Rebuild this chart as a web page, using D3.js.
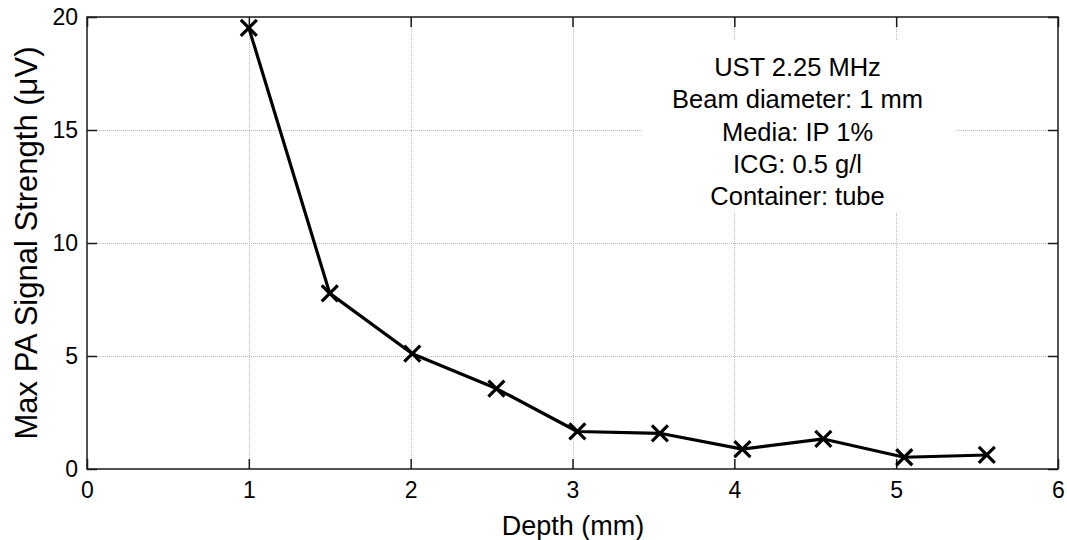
<!DOCTYPE html>
<html>
<head>
<meta charset="utf-8">
<script src="https://cdn.jsdelivr.net/npm/d3@7"></script>
<style>
  html, body { margin: 0; padding: 0; background: #fff; }
  svg { display: block; }
  text { font-family: "Liberation Sans", Arial, sans-serif; fill: #000; }
</style>
</head>
<body>
<svg id="chart" width="1067" height="540"></svg>
<script>
// ---- data ----
const depths = [1.0, 1.5, 2.01, 2.53, 3.03, 3.54, 4.05, 4.55, 5.05, 5.56];
const signal = [19.52, 7.77, 5.1, 3.56, 1.66, 1.58, 0.88, 1.33, 0.52, 0.62];
const xTicks = [0, 1, 2, 3, 4, 5, 6];
const yTicks = [0, 5, 10, 15, 20];
const xLabel = "Depth (mm)";
const yLabel = "Max PA Signal Strength (\u03BCV)";
const noteLines = ["UST 2.25 MHz", "Beam diameter: 1 mm", "Media: IP 1%", "ICG: 0.5 g/l", "Container: tube"];

// ---- layout ----
const W = 1067, H = 540;
const m = { left: 87, right: 9, top: 17, bottom: 71 };
const pw = W - m.left - m.right, ph = H - m.top - m.bottom;
const tickFs = 23, labelFs = 27, yLabelFs = 31, noteFs = 25.5;

const svg = d3.select("#chart");
const g = svg.append("g").attr("transform", `translate(${m.left},${m.top})`);

const x = d3.scaleLinear().domain([0, 6]).range([0, pw]);
const y = d3.scaleLinear().domain([0, 20]).range([ph, 0]);

// grid
const grid = g.append("g").attr("stroke", "#b8b8b8").attr("stroke-width", 1).attr("stroke-dasharray", "1,1");
grid.selectAll("line.gx").data(xTicks.slice(1, -1)).join("line")
  .attr("x1", d => Math.round(x(d)) + 0.5).attr("x2", d => Math.round(x(d)) + 0.5)
  .attr("y1", 0).attr("y2", ph);
grid.selectAll("line.gy").data(yTicks.slice(1, -1)).join("line")
  .attr("y1", d => Math.round(y(d)) + 0.5).attr("y2", d => Math.round(y(d)) + 0.5)
  .attr("x1", 0).attr("x2", pw);

// annotation box (white background covering grid)
const boxX = 556, boxY = 23, boxW = 313, boxH = 173;
g.append("rect").attr("x", boxX).attr("y", boxY).attr("width", boxW).attr("height", boxH).attr("fill", "#fff");
g.append("g").selectAll("text").data(noteLines).join("text")
  .attr("x", boxX + boxW / 2 - 2)
  .attr("y", (d, i) => boxY + 36 + i * 32.3)
  .attr("text-anchor", "middle")
  .attr("font-size", noteFs)
  .text(d => d);

// axes (box with inward ticks)
const tickLen = 10;
const axG = g.append("g").attr("stroke", "#1a1a1a").attr("stroke-width", 1.5);
axG.append("rect").attr("x", 0).attr("y", 0).attr("width", pw).attr("height", ph).attr("fill", "none");

const bottomAxis = d3.axisBottom(x).tickValues(xTicks).tickSize(-tickLen).tickPadding(13).tickFormat(d3.format("d"));
const topAxis = d3.axisTop(x).tickValues(xTicks).tickSize(-tickLen).tickFormat("");
const leftAxis = d3.axisLeft(y).tickValues(yTicks).tickSize(-tickLen).tickPadding(9).tickFormat(d3.format("d"));
const rightAxis = d3.axisRight(y).tickValues(yTicks).tickSize(-tickLen).tickFormat("");

function styleAxis(sel) {
  sel.select(".domain").remove();
  sel.selectAll(".tick line").attr("stroke", "#1a1a1a").attr("stroke-width", 1.5);
  sel.selectAll(".tick text").attr("font-size", tickFs).attr("font-family", "Liberation Sans, Arial, sans-serif").attr("fill", "#000");
}
g.append("g").attr("transform", `translate(0,${ph})`).call(bottomAxis).call(styleAxis);
g.append("g").call(topAxis).call(styleAxis);
g.append("g").call(leftAxis).call(styleAxis);
g.append("g").attr("transform", `translate(${pw},0)`).call(rightAxis).call(styleAxis);

// data line
const pts = depths.map((d, i) => [d, signal[i]]);
const line = d3.line().x(d => x(d[0])).y(d => y(d[1]));
g.append("path").datum(pts).attr("d", line)
  .attr("fill", "none").attr("stroke", "#000").attr("stroke-width", 3.2).attr("stroke-linejoin", "round");

// x markers
const ms = 8;
g.append("g").selectAll("path").data(pts).join("path")
  .attr("d", d => {
    const cx = x(d[0]), cy = y(d[1]);
    return `M${cx - ms},${cy - ms}L${cx + ms},${cy + ms}M${cx - ms},${cy + ms}L${cx + ms},${cy - ms}`;
  })
  .attr("stroke", "#000").attr("stroke-width", 3.2).attr("fill", "none");

// axis labels
svg.append("text").attr("x", m.left + pw / 2 + 0.5).attr("y", 535)
  .attr("text-anchor", "middle").attr("font-size", labelFs).text(xLabel);
svg.append("text").attr("transform", `translate(37,${m.top + ph / 2}) rotate(-90)`)
  .attr("text-anchor", "middle").attr("font-size", yLabelFs).text(yLabel);
</script>
</body>
</html>
